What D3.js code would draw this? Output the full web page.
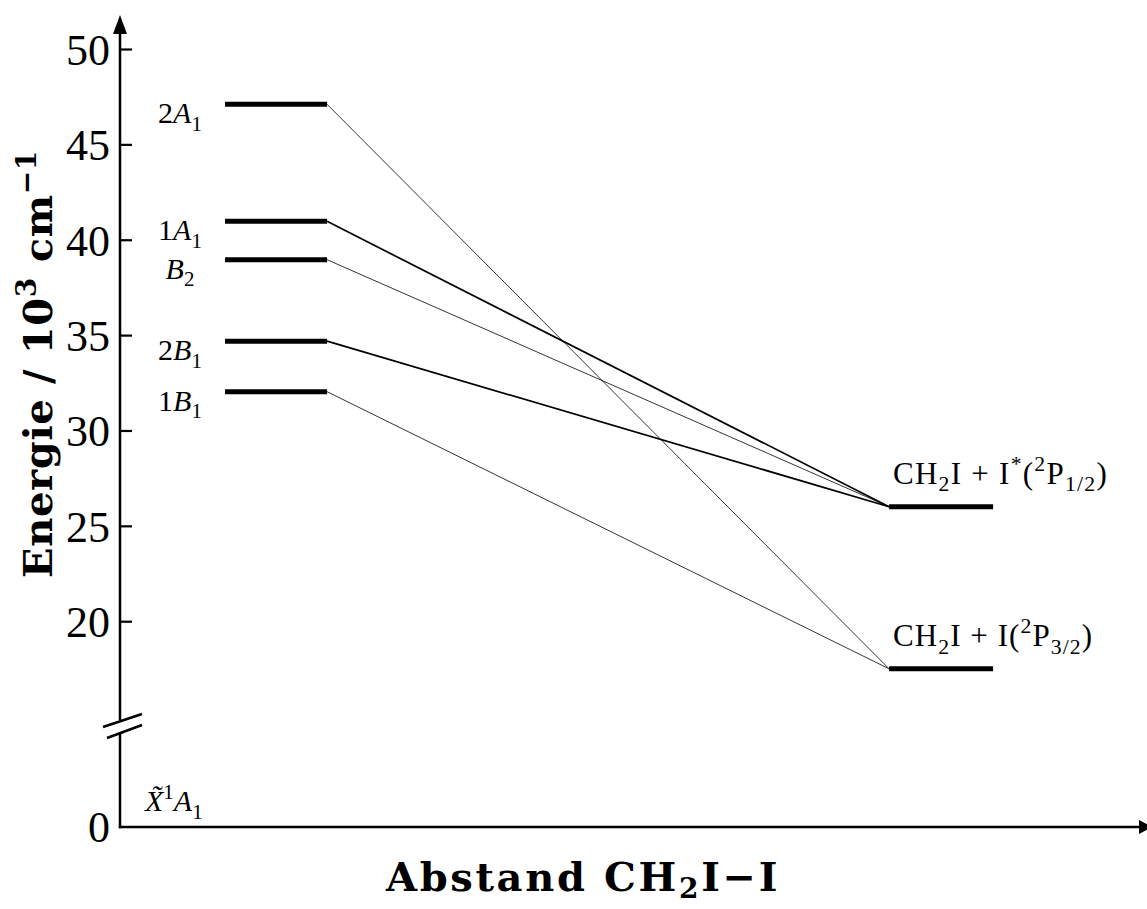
<!DOCTYPE html>
<html><head><meta charset="utf-8">
<script src="https://cdn.jsdelivr.net/npm/d3@7"></script>
<style>
body{margin:0;background:#fff}
svg{display:block}
text{font-family:"Liberation Serif","DejaVu Serif",serif;fill:#000}
</style></head>
<body><svg id="c" width="1147" height="909"></svg>
<script>
// ---- data ----
const yTicks = [0, 20, 25, 30, 35, 40, 45, 50];
const leftStates = ["2A1", "1A1", "B2", "2B1", "1B1"];
const leftEnergies = [47.13, 40.99, 38.98, 34.71, 32.06];
const rightStates = ["I*", "I"];
const rightEnergies = [26.03, 17.53];
const correlationTarget = [1, 0, 0, 0, 1]; // index into rightStates
const correlationBold = [false, true, false, true, false];
const groundEnergy = 0;
// label pieces: [text, kind] kind: n normal, i italic, sub, sup
const leftLabels = [
  [["2","n"],["A","i"],["1","sub"]],
  [["1","n"],["A","i"],["1","sub"]],
  [["B","i"],["2","sub"]],
  [["2","n"],["B","i"],["1","sub"]],
  [["1","n"],["B","i"],["1","sub"]]
];
const rightLabels = [
  [["CH","n"],["2","sub"],["I + I","n"],["*","sup"],["(","n"],["2","sup"],["P","n"],["1/2","sub"],[")","n"]],
  [["CH","n"],["2","sub"],["I + I(","n"],["2","sup"],["P","n"],["3/2","sub"],[")","n"]]
];
const groundLabel = [["X\u0303","i"],["1","sup"],["A","i"],["1","sub"]];
const xTitle = [["Abstand CH","n"],["2","sub"],["I\u2212I","n"]];
const yTitle = [["Energie / 10","n"],["3","sup"],[" cm","n"],["\u22121","sup"]];

// ---- scales ----
const svg = d3.select("#c");
const y = d3.scaleLinear().domain([0, 14.6, 50]).range([827, 724.7, 49.5]);
const x = d3.scaleLinear().domain([0, 10]).range([120, 1140]);
const leftX = [1.03, 2.03], rightX = [7.54, 8.56];

function richText(sel, pieces, size, subShift = 0.25) {
  let shift = 0;
  pieces.forEach(([t, k]) => {
    const ts = sel.append("tspan").text(t);
    let target = 0, fs = size;
    if (k === "sub") { target = subShift * size; fs = 0.7 * size; }
    if (k === "sup") { target = -0.4 * size; fs = 0.7 * size; }
    ts.attr("font-size", fs).attr("dy", target - shift);
    if (k === "i") ts.attr("font-style", "italic");
    shift = target;
  });
}
function fitWidth(sel, target) {
  const n = sel.text().length;
  const w = sel.node().getComputedTextLength();
  sel.attr("letter-spacing", ((target - w) / n).toFixed(2));
}

// ---- correlation lines ----
leftEnergies.forEach((e, i) => {
  svg.append("line")
    .attr("x1", x(leftX[1])).attr("y1", y(e))
    .attr("x2", x(rightX[0])).attr("y2", y(rightEnergies[correlationTarget[i]]))
    .attr("stroke", "#000").attr("stroke-width", correlationBold[i] ? 1.7 : 0.8);
});

// ---- levels ----
leftEnergies.forEach((e, i) => {
  svg.append("line").attr("x1", x(leftX[0])).attr("x2", x(leftX[1]))
    .attr("y1", y(e)).attr("y2", y(e)).attr("stroke", "#000").attr("stroke-width", 5);
  const t = svg.append("text").attr("x", 180).attr("y", y(e) + 19)
    .attr("text-anchor", "middle").attr("font-size", 30);
  richText(t, leftLabels[i], 30);
});
const rightWidths = [215, 200];
rightEnergies.forEach((e, i) => {
  svg.append("line").attr("x1", x(rightX[0])).attr("x2", x(rightX[1]))
    .attr("y1", y(e)).attr("y2", y(e)).attr("stroke", "#000").attr("stroke-width", 5);
  const t = svg.append("text").attr("x", 893).attr("y", y(e) - 23).attr("font-size", 31);
  richText(t, rightLabels[i], 31);
  fitWidth(t, rightWidths[i]);
});
{
  const t = svg.append("text").attr("x", 145).attr("y", y(groundEnergy) - 16).attr("font-size", 30);
  richText(t, groundLabel, 30);
}

// ---- axes ----
const axis = svg.append("g").attr("stroke", "#000").attr("stroke-width", 2.5).attr("fill", "none");
axis.append("line").attr("x1", 120).attr("x2", 120).attr("y1", 30).attr("y2", 720);
axis.append("line").attr("x1", 120).attr("x2", 120).attr("y1", 732).attr("y2", y(0) + 1.2);
axis.append("line").attr("x1", 118.8).attr("x2", 1140).attr("y1", y(0)).attr("y2", y(0));
axis.append("line").attr("x1", 103).attr("y1", 727).attr("x2", 142).attr("y2", 714);
axis.append("line").attr("x1", 107).attr("y1", 738).attr("x2", 142).attr("y2", 725);
svg.append("path").attr("d", "M120,15 L113,34 L127,34 Z").attr("fill", "#000");
svg.append("path").attr("d", `M1152,${y(0)} L1139,${y(0)-7} L1139,${y(0)+7} Z`).attr("fill", "#000");

const ticks = svg.append("g");
yTicks.forEach(v => {
  if (v !== 0) ticks.append("line").attr("x1", 120).attr("x2", 132)
    .attr("y1", y(v)).attr("y2", y(v)).attr("stroke", "#000").attr("stroke-width", 2.2);
  ticks.append("text").attr("x", 110).attr("y", y(v)).attr("dy", "0.35em")
    .attr("text-anchor", "end").attr("font-size", 44).text(v);
});

// ---- titles ----
{
  const t = svg.append("text").attr("x", 386).attr("y", 891)
    .attr("font-size", 40).attr("font-weight", "bold")
    .style("font-family", "'DejaVu Serif',serif");
  richText(t, xTitle, 40, 0.18);
  fitWidth(t, 394);
  const t2 = svg.append("text").attr("transform", "translate(52,578) rotate(-90)")
    .attr("font-size", 40).attr("font-weight", "bold")
    .style("font-family", "'DejaVu Serif',serif");
  richText(t2, yTitle, 40);
  fitWidth(t2, 428);
}
</script></body></html>
